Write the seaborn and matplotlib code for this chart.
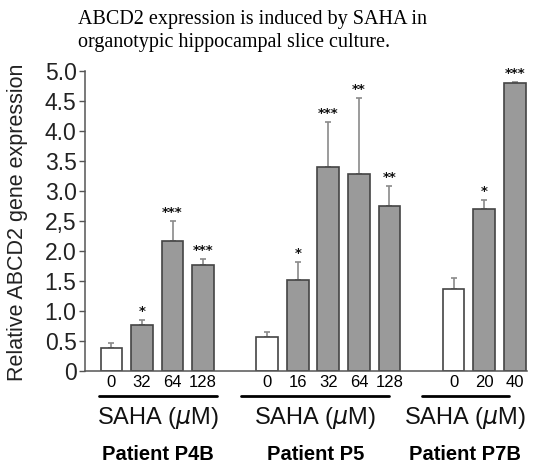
import matplotlib
matplotlib.use("Agg")
import matplotlib.pyplot as plt
import matplotlib.transforms as mtransforms
import numpy as np
import pandas as pd
import seaborn as sns

# values (relative ABCD2 expression, mean + upper SD)
patients = ["Patient P4B", "Patient P5", "Patient P7B"]
doses_p4b = ["0", "32", "64", "128"]
doses_p5 = ["0", "16", "32", "64", "128"]
doses_p7b = ["0", "20", "40"]
expr_p4b = [0.38, 0.76, 2.17, 1.76]
expr_p5 = [0.57, 1.51, 3.39, 3.28, 2.75]
expr_p7b = [1.36, 2.70, 4.79]
err_p4b = [0.08, 0.09, 0.33, 0.10]
err_p5 = [0.08, 0.31, 0.76, 1.27, 0.33]
err_p7b = [0.18, 0.15, 0.03]
stars_p4b = ["", "*", "***", "***"]
stars_p5 = ["", "*", "***", "**", "**"]
stars_p7b = ["", "*", "***"]
ytick_vals = [0, 0.5, 1.0, 1.5, 2.0, 2.5, 3.0, 3.5, 4.0, 4.5, 5.0]
ytick_labels = ["0", "0.5", "1.0", "1.5", "2.0", "2,5", "3.0", "3.5", "4.0", "4.5", "5.0"]

title = "ABCD2 expression is induced by SAHA in\norganotypic hippocampal slice culture."

sns.set_style("ticks")
plt.rcParams["font.family"] = ["Liberation Sans", "DejaVu Sans"]

groups = [(doses_p4b, expr_p4b, err_p4b, stars_p4b),
          (doses_p5, expr_p5, err_p5, stars_p5),
          (doses_p7b, expr_p7b, err_p7b, stars_p7b)]

gap = 1.1
rows = []
start = 0.0
group_pos = []
for gi, (doses, expr, err, stars) in enumerate(groups):
    pos = start + np.arange(len(doses))
    group_pos.append(pos)
    for p, d, v, e, s in zip(pos, doses, expr, err, stars):
        rows.append(dict(pos=p, dose=d, expr=v, err=e, stars=s,
                         patient=patients[gi], treated=(d != "0")))
    start = pos[-1] + 1 + gap
df = pd.DataFrame(rows)

fig = plt.figure(figsize=(5.41, 4.65), dpi=100)
ax = fig.add_axes([0.157, 0.2028, 0.817, 0.645])

ax.errorbar(df["pos"], df["expr"], yerr=[np.zeros(len(df)), df["err"]],
            fmt="none", ecolor="#8a8a8a", elinewidth=1.2, capsize=2.5,
            capthick=1.2, zorder=1)
sns.barplot(data=df, x="pos", y="expr", hue="treated", native_scale=True,
            dodge=False, width=0.71, palette={False: "white", True: "#9a9a9a"},
            edgecolor="#444444", linewidth=1.2, legend=False, ax=ax, zorder=2)

for _, r in df.iterrows():
    if r["stars"]:
        ax.text(r["pos"], r["expr"] + r["err"] + 0.03, r["stars"], ha="center",
                va="bottom", fontsize=9.5, fontweight="bold", family="DejaVu Sans",
                color="#111111", clip_on=False)

ax.set_xlim(-0.867, df["pos"].iloc[-1] + 0.4)
ax.set_ylim(0, 5.0)
ax.set_yticks(ytick_vals, ytick_labels, fontsize=16.5, color="#222222")
ax.set_xticks(df["pos"], df["dose"], fontsize=12, color="black")
ax.tick_params(axis="x", length=0, pad=3)
ax.tick_params(axis="y", length=4, width=1, color="#555555", pad=2)
ax.set_xlabel("")
ax.set_ylabel("")
sns.despine(ax=ax)
for sp in ["left", "bottom"]:
    ax.spines[sp].set_color("#555555")
    ax.spines[sp].set_linewidth(1.1)

# group annotations below the axis
trans = mtransforms.blended_transform_factory(ax.transData, fig.transFigure)
shift = [0.0, -0.45, -0.65]
for pos, name, sh in zip(group_pos, patients, shift):
    x0 = pos[0] - 0.4 + sh
    x1 = pos[-1] + 0.45 + sh
    ax.plot([x0, x1], [0.148, 0.148], color="black", lw=2, transform=trans,
            clip_on=False)
    xc = (x0 + x1) / 2
    ax.text(xc, 0.101, r"SAHA ($\mu$M)", ha="center", va="center", fontsize=17,
            color="#111111", transform=trans)
    ax.text(xc, 0.022, name, ha="center", va="center", fontsize=14.5,
            fontweight="bold", color="black", transform=trans)

fig.text(0.033, 0.522, "Relative ABCD2 gene expression", rotation=90,
         ha="center", va="center", fontsize=15.5, color="#222222")
fig.text(0.144, 0.978, title, ha="left", va="top", fontsize=14.5,
         family="Liberation Serif", linespacing=1.3, color="black")

fig.savefig("out.png", dpi=100)
